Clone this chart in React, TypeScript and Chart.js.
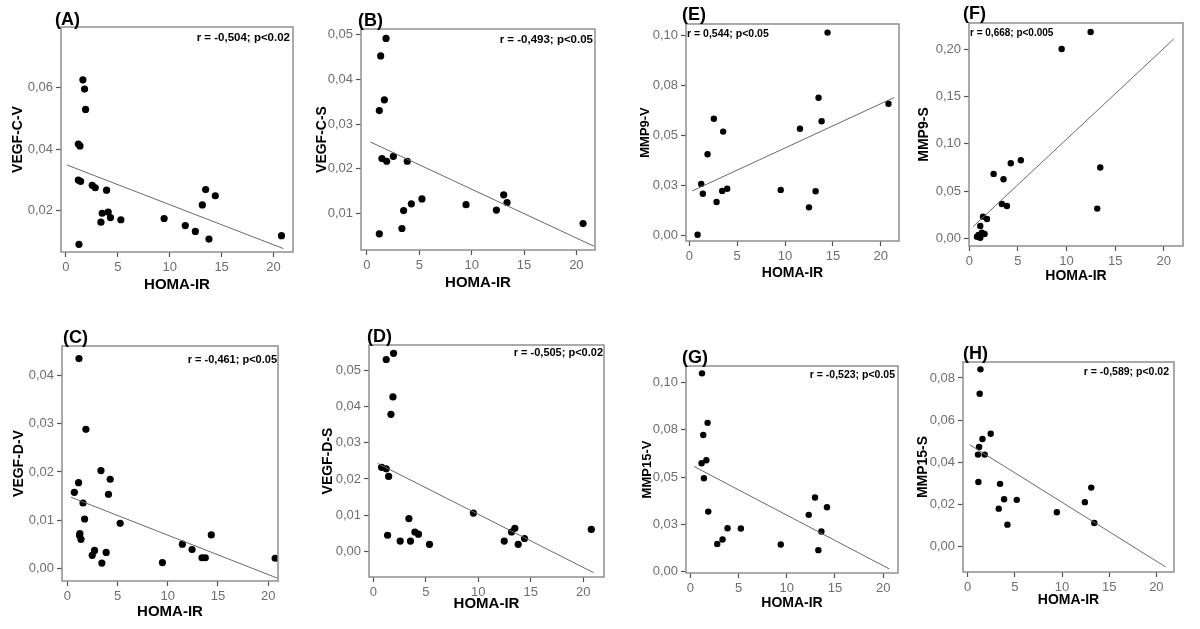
import React, { useEffect, useRef } from "react";
import { Chart, registerables } from "chart.js";

Chart.register(...registerables);

const FONT = 'Arial, "Liberation Sans", Helvetica, sans-serif';

// ---------- shared axis ----------
const xTickValues = [0, 5, 10, 15, 20];
const xTickLabels = ["0", "5", "10", "15", "20"];
const xTitle = "HOMA-IR";

// ---------- (A) VEGF-C-V ----------
const aX = [1.63, 1.79, 1.89, 1.19, 1.35, 1.19, 1.41, 2.53, 2.82, 3.91, 3.49, 4.07, 4.29, 3.37, 5.29, 9.46, 11.5, 12.47, 13.14, 13.46, 14.39, 13.78, 20.77, 1.25];
const aY = [0.0625, 0.0595, 0.0529, 0.0416, 0.041, 0.0299, 0.0295, 0.0282, 0.0274, 0.0266, 0.0191, 0.0195, 0.0177, 0.0162, 0.017, 0.0174, 0.0151, 0.0132, 0.0218, 0.0268, 0.0248, 0.0107, 0.0118, 0.009];
const aFitX = [0.1, 20.96];
const aFitY = [0.0348, 0.0076];
const aXRange = [-0.48, 21.88];
const aYRange = [0.0065, 0.0797];
const aYTicks = [0.02, 0.04, 0.06];
const aYTickLabels = ["0,02", "0,04", "0,06"];

// ---------- (B) VEGF-C-S ----------
const bX = [1.82, 1.31, 1.66, 1.18, 1.43, 1.88, 2.52, 3.85, 3.5, 4.24, 5.25, 3.34, 1.18, 9.46, 12.36, 13.06, 13.38, 20.64];
const bY = [0.0491, 0.0452, 0.0354, 0.033, 0.0223, 0.0217, 0.0228, 0.0217, 0.0107, 0.0122, 0.0133, 0.0067, 0.0055, 0.012, 0.0108, 0.0142, 0.0125, 0.0078];
const bFitX = [0.32, 21.72];
const bFitY = [0.026, 0.0027];
const bXRange = [-0.57, 21.78];
const bYRange = [0.0019, 0.0512];
const bYTicks = [0.01, 0.02, 0.03, 0.04, 0.05];
const bYTickLabels = ["0,01", "0,02", "0,03", "0,04", "0,05"];

// ---------- (E) MMP9-V ----------
const eX = [14.44, 13.5, 13.82, 20.8, 11.56, 3.54, 2.57, 1.91, 1.25, 1.42, 2.85, 3.44, 3.96, 9.55, 13.19, 12.5, 0.87];
const eY = [0.1012, 0.0687, 0.057, 0.0657, 0.0532, 0.0518, 0.0582, 0.0405, 0.0257, 0.0208, 0.0167, 0.0222, 0.0233, 0.0227, 0.022, 0.014, 0.0003];
const eFitX = [0.31, 21.39];
const eFitY = [0.0222, 0.0688];
const eXRange = [-0.34, 21.9];
const eYRange = [-0.0028, 0.1055];
const eYTicks = [0, 0.025, 0.05, 0.075, 0.1];
const eYTickLabels = ["0,00", "0,03", "0,05", "0,08", "0,10"];

// ---------- (F) MMP9-S ----------
const fX = [12.48, 9.5, 13.47, 13.16, 5.3, 4.27, 2.5, 3.52, 3.35, 3.87, 1.41, 1.82, 1.13, 0.95, 1.3, 1.57, 0.79, 1.13];
const fY = [0.218, 0.2, 0.0748, 0.0314, 0.0825, 0.0794, 0.0681, 0.0624, 0.0363, 0.0342, 0.0229, 0.0204, 0.013, 0.0035, 0.0059, 0.0046, 0.0017, 0.0006];
const fFitX = [0.38, 21.03];
const fFitY = [0.0123, 0.2106];
const fXRange = [-0.03, 21.98];
const fYRange = [-0.0081, 0.2275];
const fYTicks = [0, 0.05, 0.1, 0.15, 0.2];
const fYTickLabels = ["0,00", "0,05", "0,10", "0,15", "0,20"];

// ---------- (C) VEGF-D-V ----------
const cX = [1.16, 1.85, 1.12, 0.7, 1.56, 1.72, 1.25, 1.22, 1.36, 3.35, 4.27, 4.1, 5.26, 2.48, 2.71, 3.87, 3.44, 9.47, 11.46, 12.42, 13.41, 13.74, 14.34, 20.7];
const cY = [0.0434, 0.0288, 0.0178, 0.0158, 0.0136, 0.0103, 0.0073, 0.0069, 0.0061, 0.0203, 0.0185, 0.0154, 0.0094, 0.0028, 0.0038, 0.0034, 0.0012, 0.0013, 0.0051, 0.004, 0.0023, 0.0023, 0.007, 0.0022];
const cFitX = [0.36, 20.9];
const cFitY = [0.0148, -0.0019];
const cXRange = [-0.53, 20.98];
const cYRange = [-0.0025, 0.046];
const cYTicks = [0, 0.01, 0.02, 0.03, 0.04];
const cYTickLabels = ["0,00", "0,01", "0,02", "0,03", "0,04"];

// ---------- (D) VEGF-D-S ----------
const dX = [1.93, 1.23, 1.87, 1.68, 0.79, 1.23, 1.46, 1.36, 3.39, 3.96, 4.3, 2.56, 3.54, 5.35, 9.53, 12.47, 13.16, 13.48, 13.8, 14.4, 20.76];
const dY = [0.0546, 0.0529, 0.0426, 0.0378, 0.0232, 0.0228, 0.0207, 0.0045, 0.0091, 0.0054, 0.0048, 0.0029, 0.0029, 0.002, 0.0106, 0.0029, 0.0054, 0.0064, 0.002, 0.0036, 0.0061];
const dFitX = [0.41, 20.98];
const dFitY = [0.0243, -0.0058];
const dXRange = [-0.41, 21.97];
const dYRange = [-0.007, 0.0569];
const dYTicks = [0, 0.01, 0.02, 0.03, 0.04, 0.05];
const dYTickLabels = ["0,00", "0,01", "0,02", "0,03", "0,04", "0,05"];

// ---------- (G) MMP15-V ----------
const gX = [1.21, 1.79, 1.34, 1.66, 1.17, 1.41, 1.86, 2.79, 3.34, 3.86, 5.24, 9.38, 12.28, 12.93, 14.17, 13.59, 13.28];
const gY = [0.1049, 0.0787, 0.0723, 0.0589, 0.0573, 0.0494, 0.0317, 0.0146, 0.0169, 0.0229, 0.0228, 0.0143, 0.03, 0.0392, 0.034, 0.0212, 0.0113];
const gFitX = [0.38, 20.62];
const gFitY = [0.0556, 0.0014];
const gXRange = [-0.45, 21.54];
const gYRange = [-0.0008, 0.1088];
const gYTicks = [0, 0.025, 0.05, 0.075, 0.1];
const gYTickLabels = ["0,00", "0,03", "0,05", "0,08", "0,10"];

// ---------- (H) MMP15-S ----------
const hX = [1.35, 1.27, 1.56, 2.44, 1.2, 1.09, 1.8, 1.13, 3.43, 3.86, 5.2, 3.29, 4.21, 9.45, 12.42, 13.1, 13.42];
const hY = [0.0841, 0.0725, 0.051, 0.0535, 0.0472, 0.0436, 0.0436, 0.0306, 0.0297, 0.0224, 0.0221, 0.0179, 0.0103, 0.0162, 0.021, 0.0279, 0.0111];
const hFitX = [0.21, 20.99];
const hFitY = [0.0483, -0.0098];
const hXRange = [-0.5, 21.87];
const hYRange = [-0.0122, 0.0876];
const hYTicks = [0, 0.02, 0.04, 0.06, 0.08];
const hYTickLabels = ["0,00", "0,02", "0,04", "0,06", "0,08"];

// ---------- layout (positions / styles only) ----------
const Y_W = 58;
const PAD_T = 30;
const PAD_R = 6;
const X_H = 45;

type Panel = {
  label: string;
  yTitle: string;
  rText: string;
  x: number[];
  y: number[];
  fitX: number[];
  fitY: number[];
  xRange: number[];
  yRange: number[];
  yTicks: number[];
  yTickLabels: string[];
  box: { L: number; T: number; R: number; B: number };
  labelDx: number;
  labelDy: number;
  rAlign: "left" | "right";
  rDx: number;
  rDy: number;
  rSize: number;
  yTitleSize: number;
  yTitleGap: number;
  xTitleSize: number;
  xTitleGap: number;
  pointR: number;
};

const panels: Panel[] = [
  { label: "(A)", yTitle: "VEGF-C-V", rText: "r = -0,504; p<0.02", x: aX, y: aY, fitX: aFitX, fitY: aFitY, xRange: aXRange, yRange: aYRange, yTicks: aYTicks, yTickLabels: aYTickLabels,
    box: { L: 61, T: 27, R: 293, B: 252 }, labelDx: -6, labelDy: -2, rAlign: "right", rDx: 3, rDy: 14, rSize: 11.5, yTitleSize: 14, yTitleGap: 43, xTitleSize: 15, xTitleGap: 33, pointR: 3.6 },
  { label: "(B)", yTitle: "VEGF-C-S", rText: "r = -0,493; p<0.05", x: bX, y: bY, fitX: bFitX, fitY: bFitY, xRange: bXRange, yRange: bYRange, yTicks: bYTicks, yTickLabels: bYTickLabels,
    box: { L: 361, T: 29, R: 595, B: 250 }, labelDx: -3, labelDy: -3, rAlign: "right", rDx: 2, rDy: 14, rSize: 11.5, yTitleSize: 14, yTitleGap: 39, xTitleSize: 15, xTitleGap: 33, pointR: 3.6 },
  { label: "(E)", yTitle: "MMP9-V", rText: "r = 0,544; p<0.05", x: eX, y: eY, fitX: eFitX, fitY: eFitY, xRange: eXRange, yRange: eYRange, yTicks: eYTicks, yTickLabels: eYTickLabels,
    box: { L: 686, T: 24, R: 899, B: 241 }, labelDx: -4, labelDy: -4, rAlign: "left", rDx: 1, rDy: 13, rSize: 10.5, yTitleSize: 13, yTitleGap: 41, xTitleSize: 14, xTitleGap: 32.5, pointR: 3.2 },
  { label: "(F)", yTitle: "MMP9-S", rText: "r = 0,668; p<0.005", x: fX, y: fY, fitX: fFitX, fitY: fFitY, xRange: fXRange, yRange: fYRange, yTicks: fYTicks, yTickLabels: fYTickLabels,
    box: { L: 969, T: 23, R: 1183, B: 246 }, labelDx: -6, labelDy: -4, rAlign: "left", rDx: 1, rDy: 13, rSize: 10, yTitleSize: 14, yTitleGap: 44.5, xTitleSize: 14, xTitleGap: 30.5, pointR: 3.2 },
  { label: "(C)", yTitle: "VEGF-D-V", rText: "r = -0,461; p<0.05", x: cX, y: cY, fitX: cFitX, fitY: cFitY, xRange: cXRange, yRange: cYRange, yTicks: cYTicks, yTickLabels: cYTickLabels,
    box: { L: 62, T: 346, R: 278, B: 581 }, labelDx: 1, labelDy: -3, rAlign: "right", rDx: 1, rDy: 17, rSize: 11, yTitleSize: 14, yTitleGap: 42.5, xTitleSize: 15, xTitleGap: 31, pointR: 3.6 },
  { label: "(D)", yTitle: "VEGF-D-S", rText: "r = -0,505; p<0.02", x: dX, y: dY, fitX: dFitX, fitY: dFitY, xRange: dXRange, yRange: dYRange, yTicks: dYTicks, yTickLabels: dYTickLabels,
    box: { L: 369, T: 345, R: 604, B: 577 }, labelDx: -2, labelDy: -3, rAlign: "right", rDx: 1, rDy: 11, rSize: 11, yTitleSize: 14, yTitleGap: 40.5, xTitleSize: 15, xTitleGap: 27, pointR: 3.6 },
  { label: "(G)", yTitle: "MMP15-V", rText: "r = -0,523; p<0.05", x: gX, y: gY, fitX: gFitX, fitY: gFitY, xRange: gXRange, yRange: gYRange, yTicks: gYTicks, yTickLabels: gYTickLabels,
    box: { L: 686, T: 366, R: 898, B: 573 }, labelDx: -4, labelDy: -3, rAlign: "right", rDx: 3, rDy: 12, rSize: 10.5, yTitleSize: 13, yTitleGap: 39, xTitleSize: 14, xTitleGap: 30, pointR: 3.2 },
  { label: "(H)", yTitle: "MMP15-S", rText: "r = -0,589; p<0.02", x: hX, y: hY, fitX: hFitX, fitY: hFitY, xRange: hXRange, yRange: hYRange, yTicks: hYTicks, yTickLabels: hYTickLabels,
    box: { L: 963, T: 362, R: 1174, B: 572 }, labelDx: 0, labelDy: -3, rAlign: "right", rDx: 5, rDy: 13, rSize: 10.5, yTitleSize: 14, yTitleGap: 39.5, xTitleSize: 14, xTitleGap: 28, pointR: 3.2 },
];

const decorPlugin = {
  id: "decor",
  afterDraw(chart: any, _args: any, opts: any) {
    const ctx = chart.ctx;
    const ca = chart.chartArea;
    ctx.save();
    ctx.strokeStyle = "#8f8f8f";
    ctx.lineWidth = 1.5;
    ctx.strokeRect(ca.left, ca.top, ca.right - ca.left, ca.bottom - ca.top);
    ctx.fillStyle = "#000";
    ctx.textBaseline = "alphabetic";
    ctx.textAlign = "left";
    ctx.font = `bold 18px ${FONT}`;
    ctx.fillText(opts.label, ca.left + opts.labelDx, ca.top + opts.labelDy);
    ctx.font = `bold ${opts.rSize}px ${FONT}`;
    ctx.textAlign = opts.rAlign;
    const tx = opts.rAlign === "right" ? ca.right - opts.rDx : ca.left + opts.rDx;
    ctx.fillText(opts.rText, tx, ca.top + opts.rDy);
    ctx.restore();
  },
};

function PanelChart({ p }: { p: Panel }) {
  const ref = useRef<HTMLCanvasElement | null>(null);
  const w = Y_W + (p.box.R - p.box.L) + PAD_R;
  const h = PAD_T + (p.box.B - p.box.T) + X_H;

  useEffect(() => {
    if (!ref.current) return;
    const pts = p.x.map((xv, i) => ({ x: xv, y: p.y[i] }));
    const fit = p.fitX.map((xv, i) => ({ x: xv, y: p.fitY[i] }));
    const yLH = p.yTitleSize * 1.2;
    const xLH = p.xTitleSize * 1.2;
    const chart = new Chart(ref.current, {
      type: "scatter",
      data: {
        datasets: [
          {
            data: fit,
            showLine: true,
            borderColor: "#6a6a6a",
            borderWidth: 1,
            pointRadius: 0,
            clip: false as any,
          },
          {
            data: pts,
            backgroundColor: "#000",
            borderColor: "#000",
            borderWidth: 0,
            pointRadius: p.pointR,
            pointHoverRadius: p.pointR,
          },
        ],
      },
      options: {
        animation: false,
        responsive: false,
        devicePixelRatio: 1,
        events: [],
        layout: { padding: { left: 0, top: PAD_T, right: PAD_R, bottom: 0 } },
        plugins: {
          legend: { display: false },
          tooltip: { enabled: false },
          title: { display: false },
          decor: {
            label: p.label,
            labelDx: p.labelDx,
            labelDy: p.labelDy,
            rText: p.rText,
            rAlign: p.rAlign,
            rDx: p.rDx,
            rDy: p.rDy,
            rSize: p.rSize,
          },
        } as any,
        scales: {
          x: {
            type: "linear",
            min: p.xRange[0],
            max: p.xRange[1],
            afterBuildTicks: (s: any) => {
              s.ticks = xTickValues.map((v) => ({ value: v }));
            },
            afterFit: (s: any) => {
              s.height = X_H;
            },
            ticks: {
              autoSkip: false,
              maxRotation: 0,
              minRotation: 0,
              padding: 3,
              color: "#6e6e6e",
              font: { family: FONT, size: 13 },
              callback: (_v: any, i: number) => xTickLabels[i],
            },
            grid: {
              display: true,
              drawOnChartArea: false,
              drawTicks: true,
              tickLength: 5,
              tickColor: "#555",
              tickWidth: 1.2,
            },
            border: { display: false },
            title: {
              display: true,
              text: xTitle,
              color: "#000",
              font: { family: FONT, size: p.xTitleSize, weight: "bold" },
              padding: { top: 0, bottom: X_H - p.xTitleGap - xLH / 2 },
            },
          },
          y: {
            type: "linear",
            min: p.yRange[0],
            max: p.yRange[1],
            afterBuildTicks: (s: any) => {
              s.ticks = p.yTicks.map((v) => ({ value: v }));
            },
            afterFit: (s: any) => {
              s.width = Y_W;
            },
            ticks: {
              autoSkip: false,
              padding: 3,
              color: "#6e6e6e",
              font: { family: FONT, size: 13 },
              callback: (_v: any, i: number) => p.yTickLabels[i],
            },
            grid: {
              display: true,
              drawOnChartArea: false,
              drawTicks: true,
              tickLength: 5,
              tickColor: "#555",
              tickWidth: 1.2,
            },
            border: { display: false },
            title: {
              display: true,
              text: p.yTitle,
              color: "#000",
              font: { family: FONT, size: p.yTitleSize, weight: "bold" },
              padding: { top: Y_W - p.yTitleGap - yLH / 2, bottom: 0 },
            },
          },
        },
      } as any,
      plugins: [decorPlugin as any],
    });
    return () => chart.destroy();
  }, [p]);

  return (
    <canvas
      ref={ref}
      width={w}
      height={h}
      style={{
        position: "absolute",
        left: p.box.L - Y_W,
        top: p.box.T - PAD_T,
        width: w,
        height: h,
      }}
    />
  );
}

export default function App() {
  return (
    <div
      style={{
        position: "absolute",
        left: 0,
        top: 0,
        width: 1200,
        height: 629,
        background: "#fff",
        overflow: "hidden",
      }}
    >
      {panels.map((p) => (
        <PanelChart key={p.label} p={p} />
      ))}
    </div>
  );
}
